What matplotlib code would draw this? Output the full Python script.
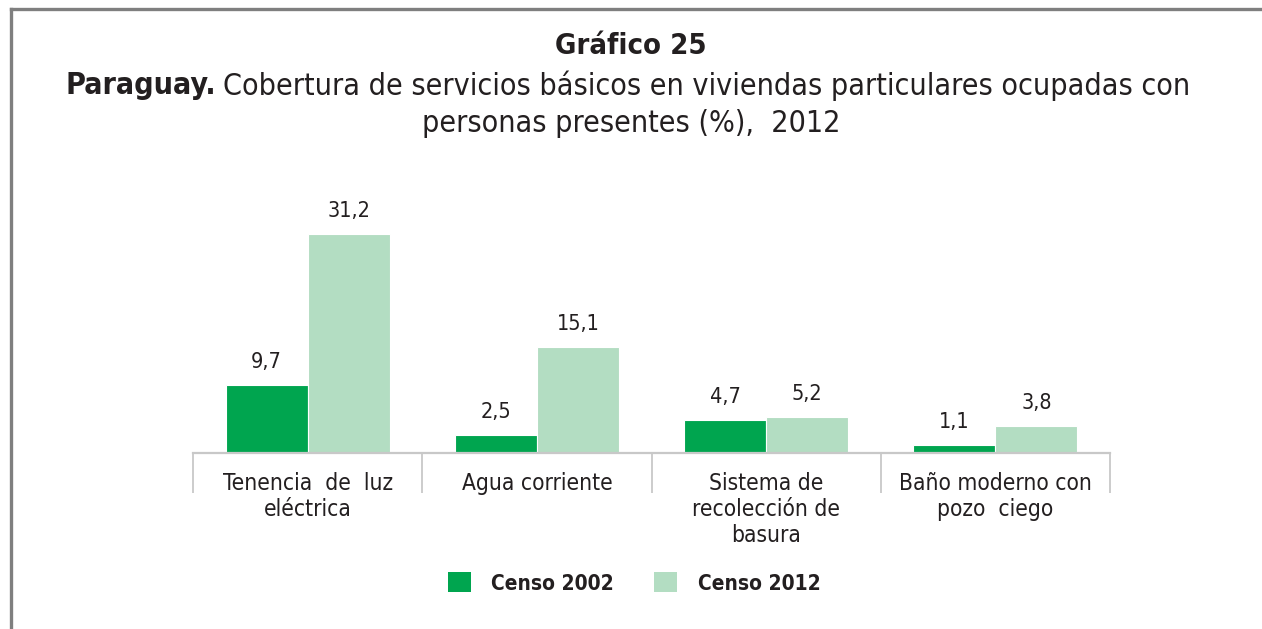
import numpy as np
import matplotlib.pyplot as plt
from matplotlib.patches import Patch
from matplotlib.lines import Line2D

categorias = ["Tenencia  de  luz\neléctrica", "Agua corriente",
              "Sistema de\nrecolección de\nbasura", "Baño moderno con\npozo  ciego"]
censo_2002 = [9.7, 2.5, 4.7, 1.1]
censo_2012 = [31.2, 15.1, 5.2, 3.8]
series = ["Censo 2002", "Censo 2012"]

verde = "#00a54f"
verde_claro = "#b3ddc2"
texto = "#231f20"

plt.rcParams['font.family'] = ['DejaVu Sans']
plt.rcParams['font.stretch'] = 'condensed'

W, H = 1262, 629
fig = plt.figure(figsize=(W / 100, H / 100), dpi=100)

# marco gris
fig.add_artist(Line2D([11 / W, 11 / W], [0, 1 - 9 / H], color="#7f7f7f", lw=2.4))
fig.add_artist(Line2D([11 / W, 1], [1 - 9 / H, 1 - 9 / H], color="#7f7f7f", lw=2.4))

# titulo
fig.text(0.5, 1 - 46 / H, "Gráfico 25", ha="center", va="center",
         fontsize=21, fontweight="bold", color=texto)
t1 = fig.text(65 / W, 1 - 86 / H, "Paraguay.", ha="left", va="center",
              fontsize=21.8, fontweight="bold", color=texto)
fig.canvas.draw()
r = fig.canvas.get_renderer()
bb = t1.get_window_extent(r)
fig.text(bb.x1 / W + 7 / W, 1 - 86 / H,
         "Cobertura de servicios básicos en viviendas particulares ocupadas con",
         ha="left", va="center", fontsize=21.8, color=texto)
fig.text(0.5, 1 - 123 / H, "personas presentes (%),  2012", ha="center", va="center",
         fontsize=21.8, color=texto)

left, right = 193 / W, 1110 / W
bottom, top = 1 - 453 / H, 1 - 180 / H
ax = fig.add_axes([left, bottom, right - left, top - bottom])

x = np.arange(len(categorias))
ancho = 0.357
off = 0.179
b1 = ax.bar(x - off, censo_2002, ancho, color=verde, edgecolor="white", linewidth=0.8)
b2 = ax.bar(x + off, censo_2012, ancho, color=verde_claro, edgecolor="white", linewidth=0.8)

for barras in (b1, b2):
    for b in barras:
        h = b.get_height()
        ax.annotate(f"{h:.1f}".replace(".", ","), (b.get_x() + b.get_width() / 2, h),
                    xytext=(0, 13), textcoords="offset pixels", ha="center", va="bottom",
                    fontsize=15.5, color=texto)

ax.set_xlim(-0.5, len(categorias) - 0.5)
ax.set_ylim(0, 272 / 6.99)
for s in ("top", "right", "left"):
    ax.spines[s].set_visible(False)
ax.spines["bottom"].set_color("#c8c8c8")
ax.spines["bottom"].set_linewidth(1.6)
ax.set_yticks([])

ax.set_xticks(x)
ax.set_xticklabels(categorias, fontsize=16.3, color=texto, linespacing=1.15, va="top")
ax.tick_params(axis="x", which="major", length=0, pad=14)
ax.set_xticks(np.arange(len(categorias) + 1) - 0.5, minor=True)
ax.tick_params(axis="x", which="minor", length=29, width=1.3, color="#c8c8c8")

handles = [Patch(facecolor=verde, edgecolor="none"), Patch(facecolor=verde_claro, edgecolor="none")]
fig.legend(handles, series, loc="center", bbox_to_anchor=(0.5 + 3 / W, 1 - 583 / H), ncol=2,
           frameon=False, handlelength=1.1, handleheight=1.1, handletextpad=1.0,
           columnspacing=1.9, prop={"weight": "bold", "size": 15})
for t in fig.legends[0].get_texts():
    t.set_color(texto)

fig.savefig("out.png", dpi=100)
